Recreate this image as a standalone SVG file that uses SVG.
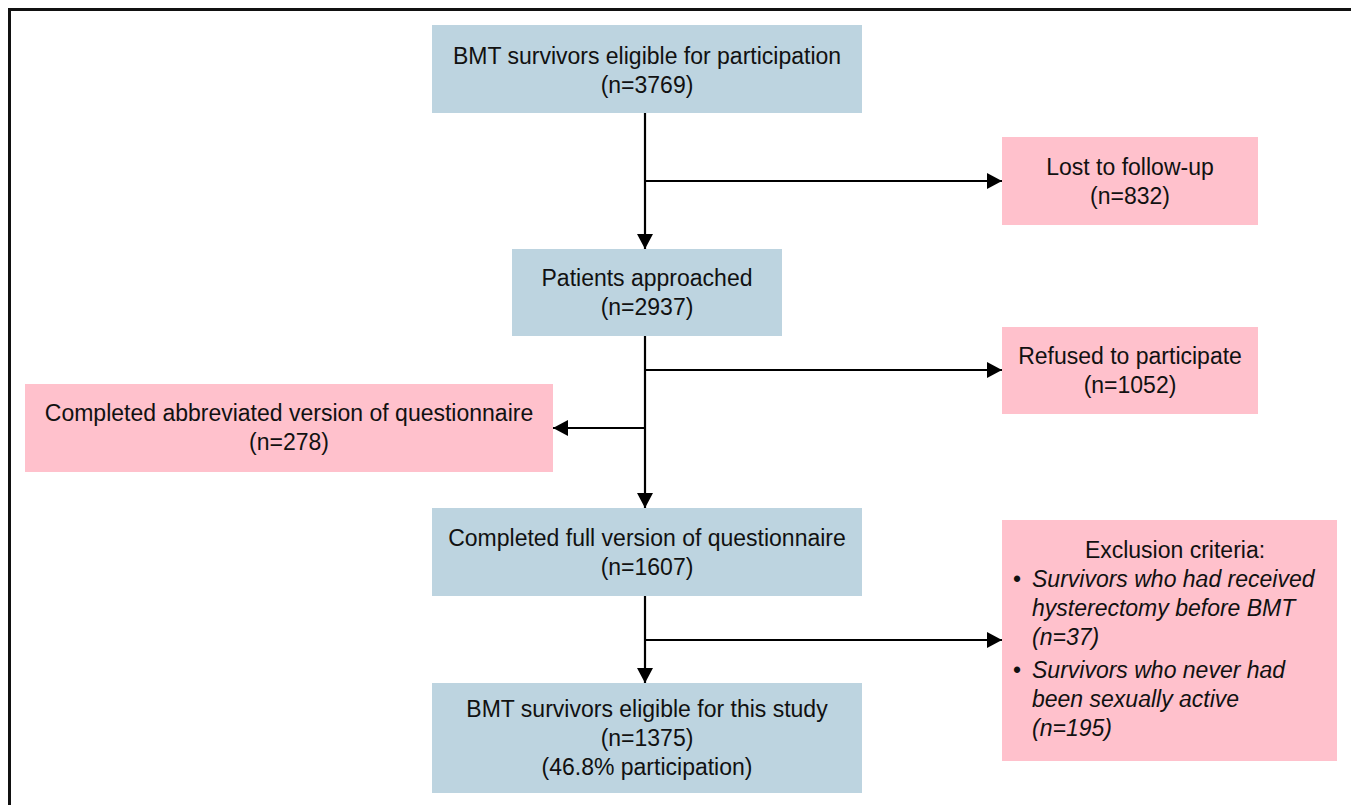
<svg xmlns="http://www.w3.org/2000/svg" width="1351" height="805" viewBox="0 0 1351 805">
<defs>
<style>
.blue{fill:#BDD4E0}
.pink{fill:#FFC1CC}
text{font-family:"Liberation Sans",Arial,Helvetica,sans-serif;font-size:23px;fill:#111}
.c{text-anchor:middle}
.i{font-style:italic}
.conn{stroke:#000;stroke-width:2.2;fill:none}
.frame{stroke:#111;stroke-width:3;fill:none}
</style>
<marker id="arr" markerUnits="userSpaceOnUse" markerWidth="16" markerHeight="18" refX="15" refY="8" orient="auto">
<path d="M0,0 L15,8 L0,16 Z" fill="#000"/>
</marker>
</defs>
<rect width="1351" height="805" fill="#fff"/>
<path class="frame" d="M9.5,805 V9.5 H1351"/>

<g id="connectors">
<line class="conn" x1="645" y1="113" x2="645" y2="249" marker-end="url(#arr)"/>
<line class="conn" x1="645" y1="181" x2="1002" y2="181" marker-end="url(#arr)"/>
<line class="conn" x1="645" y1="336" x2="645" y2="508" marker-end="url(#arr)"/>
<line class="conn" x1="645" y1="370" x2="1002" y2="370" marker-end="url(#arr)"/>
<line class="conn" x1="645" y1="428" x2="553" y2="428" marker-end="url(#arr)"/>
<line class="conn" x1="645" y1="596" x2="645" y2="683" marker-end="url(#arr)"/>
<line class="conn" x1="645" y1="640" x2="1002" y2="640" marker-end="url(#arr)"/>
</g>

<g id="eligible">
<rect class="blue" x="432" y="25" width="430" height="88"/>
<text class="c" x="647" y="64">BMT survivors eligible for participation</text>
<text class="c" x="647" y="93">(n=3769)</text>
</g>

<g id="lost">
<rect class="pink" x="1002" y="137" width="256" height="88"/>
<text class="c" x="1130" y="175">Lost to follow-up</text>
<text class="c" x="1130" y="204">(n=832)</text>
</g>

<g id="approached">
<rect class="blue" x="512" y="249" width="270" height="87"/>
<text class="c" x="647" y="286">Patients approached</text>
<text class="c" x="647" y="315">(n=2937)</text>
</g>

<g id="refused">
<rect class="pink" x="1002" y="327" width="256" height="87"/>
<text class="c" x="1130" y="364">Refused to participate</text>
<text class="c" x="1130" y="393">(n=1052)</text>
</g>

<g id="abbreviated">
<rect class="pink" x="25" y="384" width="528" height="88"/>
<text class="c" x="289" y="421">Completed abbreviated version of questionnaire</text>
<text class="c" x="289" y="450">(n=278)</text>
</g>

<g id="full">
<rect class="blue" x="432" y="508" width="430" height="88"/>
<text class="c" x="647" y="546">Completed full version of questionnaire</text>
<text class="c" x="647" y="575">(n=1607)</text>
</g>

<g id="exclusion">
<rect class="pink" x="1002" y="520" width="335" height="241"/>
<text class="c" x="1175" y="558">Exclusion criteria:</text>
<text x="1013" y="587">•</text>
<text class="i" x="1032" y="587">Survivors who had received</text>
<text class="i" x="1032" y="616">hysterectomy before BMT</text>
<text class="i" x="1032" y="645">(n=37)</text>
<text x="1013" y="678">•</text>
<text class="i" x="1032" y="678">Survivors who never had</text>
<text class="i" x="1032" y="707">been sexually active</text>
<text class="i" x="1032" y="736">(n=195)</text>
</g>

<g id="study">
<rect class="blue" x="432" y="683" width="430" height="110"/>
<text class="c" x="647" y="717">BMT survivors eligible for this study</text>
<text class="c" x="647" y="746">(n=1375)</text>
<text class="c" x="647" y="775">(46.8% participation)</text>
</g>
</svg>
